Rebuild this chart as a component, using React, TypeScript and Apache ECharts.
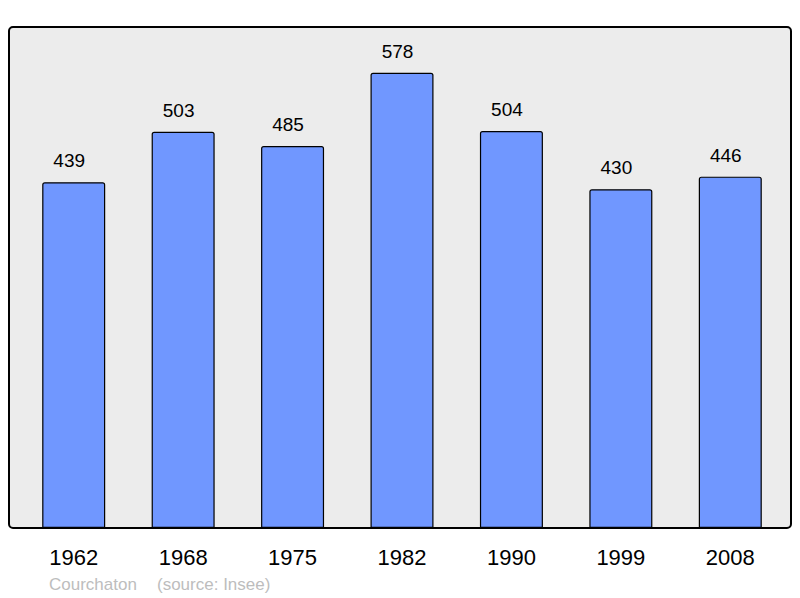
import React, { useEffect, useRef } from "react";
import * as echarts from "echarts";

const years = ["1962", "1968", "1975", "1982", "1990", "1999", "2008"];
const population = [439, 503, 485, 578, 504, 430, 446];
const captionCommune = "Courchaton";
const captionSource = "(source: Insee)";

export default function App() {
  const ref = useRef<HTMLDivElement>(null);
  useEffect(() => {
    const chart = echarts.init(ref.current!, null, { renderer: "svg" });
    const font = "Liberation Sans, Arial, sans-serif";
    chart.setOption({
      animation: false,
      backgroundColor: "#ffffff",
      textStyle: { fontFamily: font },
      graphic: [
        {
          type: "rect",
          z: -10,
          shape: { x: 9, y: 27, width: 782, height: 501, r: 4 },
          style: { fill: "#ececec", stroke: "#000", lineWidth: 2 },
        },
        {
          type: "text",
          x: 49,
          y: 584.5,
          style: {
            text: captionCommune,
            fill: "#bdbdbd",
            fontSize: 17,
            fontFamily: font,
            verticalAlign: "middle",
          },
        },
        {
          type: "text",
          x: 157,
          y: 584.5,
          style: {
            text: captionSource,
            fill: "#bdbdbd",
            fontSize: 17,
            fontFamily: font,
            verticalAlign: "middle",
          },
        },
      ],
      grid: { left: 19, right: 15, top: 27, bottom: 70, containLabel: false },
      xAxis: {
        type: "category",
        data: years,
        axisLine: { show: false },
        axisTick: { show: false },
        axisLabel: {
          color: "#000",
          fontSize: 22,
          margin: 18,
          fontFamily: font,
        },
      },
      yAxis: {
        type: "value",
        min: 0,
        max: 636,
        show: false,
        splitLine: { show: false },
      },
      series: [
        {
          type: "bar",
          data: population,
          barWidth: 63,
          itemStyle: {
            color: "#7097ff",
            borderColor: "#000",
            borderWidth: 1.2,
            borderRadius: [2, 2, 0, 0],
          },
          label: {
            show: true,
            position: "top",
            distance: 12,
            offset: [-4.5, 0],
            color: "#000",
            fontSize: 19,
            fontFamily: font,
          },
        },
      ],
    });
    return () => chart.dispose();
  }, []);
  return <div ref={ref} style={{ width: 800, height: 598, position: "absolute", left: 0, top: 0 }} />;
}
